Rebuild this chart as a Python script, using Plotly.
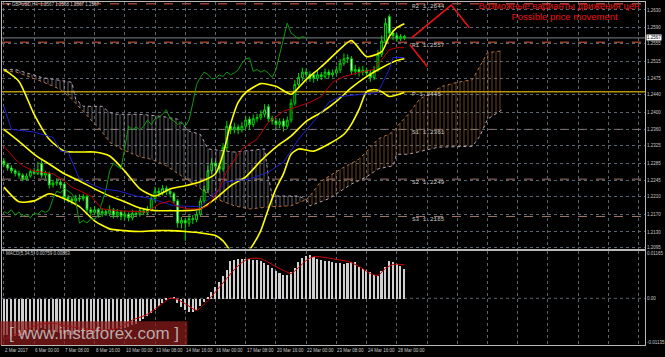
import plotly.graph_objects as go

W, H = 665, 357

# ---------------- data ----------------
date_labels = ["2 Mar 2017", "6 Mar 00:00", "7 Mar 08:00", "8 Mar 16:00", "10 Mar 00:00",
               "13 Mar 08:00", "14 Mar 16:00", "16 Mar 00:00", "17 Mar 08:00", "20 Mar 16:00",
               "22 Mar 00:00", "23 Mar 08:00", "24 Mar 16:00", "28 Mar 00:00"]
label_bars = [0, 8, 16, 24, 32, 40, 48, 56, 64, 72, 80, 88, 96, 104]

price_ticks = [1.2630, 1.2590, 1.2555, 1.2515, 1.2475, 1.2440, 1.2400, 1.2360, 1.2325,
               1.2285, 1.2245, 1.2210, 1.2170, 1.2130, 1.2095]
macd_ticks = [0.01165, 0.0, -0.01135]
macd_tick_text = ["0.01165", "0.00", "-0.01135"]

opens = [1.2290,1.2282,1.2274,1.2268,1.2262,1.2258,1.2250,1.2256,1.2266,1.2262,
         1.2284,1.2258,1.2262,1.2236,1.2240,1.2242,1.2238,1.2208,1.2204,1.2200,
         1.2206,1.2205,1.2210,1.2180,1.2174,1.2180,1.2170,1.2176,1.2172,1.2180,
         1.2168,1.2175,1.2165,1.2170,1.2162,1.2172,1.2170,1.2178,1.2174,1.2180,
         1.2205,1.2222,1.2218,1.2228,1.2222,1.2216,1.2200,1.2150,1.2156,1.2150,
         1.2160,1.2158,1.2170,1.2200,1.2225,1.2268,1.2285,1.2278,1.2272,1.2320,
         1.2368,1.2360,1.2366,1.2360,1.2368,1.2384,1.2372,1.2385,1.2388,1.2395,
         1.2412,1.2385,1.2380,1.2372,1.2380,1.2368,1.2382,1.2420,1.2462,1.2478,
         1.2490,1.2485,1.2484,1.2476,1.2484,1.2480,1.2490,1.2484,1.2488,1.2495,
         1.2510,1.2520,1.2520,1.2492,1.2496,1.2490,1.2494,1.2488,1.2478,1.2495,
         1.2530,1.2560,1.2615,1.2578,1.2572,1.2565,1.2570]
highs = [1.2296,1.2286,1.2280,1.2272,1.2268,1.2262,1.2262,1.2272,1.2275,1.2288,
         1.2292,1.2268,1.2266,1.2248,1.2250,1.2248,1.2242,1.2214,1.2210,1.2214,
         1.2215,1.2216,1.2214,1.2186,1.2188,1.2184,1.2184,1.2182,1.2190,1.2184,
         1.2182,1.2178,1.2178,1.2174,1.2180,1.2178,1.2186,1.2184,1.2188,1.2214,
         1.2232,1.2230,1.2236,1.2234,1.2226,1.2220,1.2204,1.2164,1.2162,1.2168,
         1.2168,1.2178,1.2208,1.2234,1.2280,1.2296,1.2292,1.2284,1.2330,1.2380,
         1.2374,1.2376,1.2372,1.2378,1.2392,1.2390,1.2394,1.2396,1.2404,1.2418,
         1.2418,1.2392,1.2386,1.2386,1.2386,1.2390,1.2430,1.2472,1.2488,1.2500,
         1.2498,1.2492,1.2490,1.2494,1.2490,1.2498,1.2496,1.2496,1.2504,1.2520,
         1.2532,1.2530,1.2526,1.2506,1.2502,1.2504,1.2500,1.2494,1.2504,1.2540,
         1.2572,1.2612,1.2620,1.2586,1.2578,1.2576,1.2574]
lows = [1.2276,1.2268,1.2262,1.2255,1.2250,1.2244,1.2246,1.2252,1.2258,1.2258,
        1.2252,1.2250,1.2228,1.2230,1.2234,1.2228,1.2200,1.2196,1.2192,1.2196,
        1.2198,1.2200,1.2172,1.2166,1.2168,1.2162,1.2164,1.2166,1.2166,1.2160,
        1.2162,1.2156,1.2158,1.2154,1.2156,1.2164,1.2164,1.2168,1.2168,1.2176,
        1.2198,1.2210,1.2212,1.2214,1.2208,1.2194,1.2140,1.2138,1.2110,1.2142,
        1.2148,1.2152,1.2164,1.2194,1.2218,1.2260,1.2268,1.2262,1.2266,1.2312,
        1.2350,1.2352,1.2350,1.2354,1.2362,1.2360,1.2366,1.2378,1.2382,1.2388,
        1.2378,1.2372,1.2362,1.2364,1.2356,1.2362,1.2376,1.2414,1.2456,1.2470,
        1.2476,1.2468,1.2466,1.2470,1.2472,1.2474,1.2476,1.2478,1.2482,1.2488,
        1.2504,1.2510,1.2486,1.2484,1.2480,1.2482,1.2478,1.2468,1.2472,1.2490,
        1.2524,1.2552,1.2570,1.2562,1.2558,1.2560,1.2562]
closes = [1.2282,1.2274,1.2268,1.2262,1.2258,1.2250,1.2256,1.2266,1.2262,1.2270,
          1.2258,1.2262,1.2236,1.2240,1.2242,1.2236,1.2208,1.2204,1.2200,1.2206,
          1.2205,1.2210,1.2180,1.2174,1.2180,1.2170,1.2176,1.2172,1.2180,1.2168,
          1.2175,1.2165,1.2170,1.2162,1.2172,1.2170,1.2178,1.2174,1.2180,1.2205,
          1.2222,1.2218,1.2228,1.2222,1.2216,1.2200,1.2150,1.2156,1.2150,1.2160,
          1.2158,1.2170,1.2200,1.2225,1.2268,1.2285,1.2278,1.2272,1.2320,1.2368,
          1.2360,1.2366,1.2360,1.2368,1.2382,1.2372,1.2385,1.2388,1.2395,1.2405,
          1.2385,1.2380,1.2372,1.2378,1.2368,1.2382,1.2420,1.2462,1.2478,1.2490,
          1.2485,1.2475,1.2476,1.2484,1.2480,1.2490,1.2484,1.2488,1.2495,1.2510,
          1.2520,1.2522,1.2492,1.2496,1.2490,1.2494,1.2488,1.2478,1.2495,1.2530,
          1.2560,1.2600,1.2578,1.2572,1.2565,1.2570,1.2567]
bars = list(range(len(closes)))
chikou_shift = 26

bb_upper_idx = [0,4,8,12,16,20,24,28,32,36,40,44,48,52,56,58,60,62,64,68,72,76,78,80,84,88,92,96,100,102,104,106]
bb_upper = [1.2496,1.2469,1.2395,1.2339,1.2312,1.2310,1.2310,1.2301,1.2267,1.2227,
            1.2211,1.2227,1.2234,1.2243,1.2261,1.2305,1.2373,1.2422,1.2444,1.2464,
            1.2458,1.2440,1.2455,1.2473,1.2502,1.2534,1.2561,1.2525,1.2536,1.2570,
            1.2590,1.2599]
bb_mid_idx = [0,4,8,12,16,20,24,28,32,36,40,44,48,52,56,60,64,68,72,76,80,84,88,92,96,100,104,106]
bb_middle = [1.2361,1.2334,1.2305,1.2283,1.2261,1.2245,1.2227,1.2211,1.2198,1.2184,
             1.2178,1.2178,1.2178,1.2182,1.2205,1.2234,1.2254,1.2290,1.2321,1.2346,
             1.2379,1.2399,1.2424,1.2455,1.2480,1.2500,1.2516,1.2520]
bb_lower_idx = [0,4,8,12,16,20,24,28,32,36,40,44,48,52,56,58,60,62,64,66,68,70,72,74,76,78,82,86,90,92,94,96,98,100,102,106]
bb_lower = [1.2231,1.2198,1.2200,1.2216,1.2205,1.2187,1.2155,1.2137,1.2133,1.2131,
            1.2133,1.2133,1.2131,1.2128,1.2122,1.2110,1.2088,1.2075,1.2079,1.2102,
            1.2133,1.2182,1.2227,1.2261,1.2305,1.2317,1.2312,1.2328,1.2350,1.2373,
            1.2406,1.2446,1.2451,1.2446,1.2435,1.2444]

tenkan_idx = [0,3,5,8,10,13,16,18,23,26,30,38,41,44,46,49,52,54,57,59,63,67,70,74,78,81,84,87,90,94,98,100,102,104,106]
tenkan = [1.2323,1.2294,1.2279,1.2267,1.2265,1.2261,1.2245,1.2231,1.2211,1.2182,
          1.2178,1.2175,1.2193,1.2200,1.2187,1.2182,1.2182,1.2189,1.2227,1.2267,
          1.2317,1.2339,1.2377,1.2402,1.2413,1.2422,1.2435,1.2467,1.2480,1.2489,
          1.2496,1.2518,1.2540,1.2545,1.2545]
kijun_idx = [0,2,8,13,15,17,20,26,30,35,39,45,52,57,59,65,70,74,78,84,86,89,99,102,103,106]
kijun = [1.2413,1.2361,1.2355,1.2343,1.2312,1.2310,1.2249,1.2227,1.2223,1.2211,
         1.2205,1.2189,1.2187,1.2227,1.2243,1.2249,1.2265,1.2287,1.2339,1.2399,
         1.2422,1.2435,1.2444,1.2496,1.2523,1.2523]

span_a_idx = [0,3,10,15,18,26,28,31,36,39,43,48,52,56,61,65,71,76,80,81,84,90,94,99,103,105,107,110,116,120,124,126,128,132]
span_a = [1.2491,1.2491,1.2469,1.2451,1.2429,1.2355,1.2332,1.2317,1.2299,1.2294,
          1.2279,1.2250,1.2227,1.2205,1.2189,1.2182,1.2187,1.2189,1.2203,1.2211,
          1.2245,1.2276,1.2294,1.2339,1.2355,1.2377,1.2395,1.2429,1.2458,1.2467,
          1.2473,1.2502,1.2534,1.2538]
span_b_idx = [0,3,10,18,19,21,26,28,30,36,42,46,49,52,54,61,69,70,71,78,80,81,86,92,96,99,103,104,107,115,124,126,128,132]
span_b = [1.2496,1.2496,1.2478,1.2467,1.2429,1.2413,1.2413,1.2399,1.2395,1.2395,
          1.2390,1.2384,1.2357,1.2350,1.2317,1.2310,1.2317,1.2256,1.2211,1.2211,
          1.2203,1.2189,1.2205,1.2238,1.2254,1.2272,1.2279,1.2305,1.2305,1.2321,
          1.2323,1.2346,1.2384,1.2406]
cloud_cross = 80

pivot_names = ["R2", "R1", "P", "S1", "S2", "S3"]
pivot_values = [1.2644, 1.2557, 1.2446, 1.2361, 1.2249, 1.2165]
bid_price = 1.2567

forecast_up_x = [107.9, 118.4, 123.2]
forecast_up_y = [1.2567, 1.2641, 1.2590]
forecast_dn_x = [107.4, 112.1]
forecast_dn_y = [1.2552, 1.2502]

macd_hist = [-0.0092,-0.0094,-0.0096,-0.0097,-0.0095,-0.0093,-0.0090,-0.0086,-0.0083,-0.0080,
             -0.0076,-0.0078,-0.0082,-0.0085,-0.0086,-0.0088,-0.0090,-0.0092,-0.0092,-0.0090,
             -0.0088,-0.0090,-0.0091,-0.0090,-0.0088,-0.0086,-0.0084,-0.0082,-0.0080,-0.0078,
             -0.0078,-0.0077,-0.0075,-0.0072,-0.0068,-0.0064,-0.0058,-0.0052,-0.0045,-0.0036,
             -0.0028,-0.0018,-0.0010,-0.0004,0.0001,0.0002,-0.0010,-0.0022,-0.0030,-0.0033,
             -0.0033,-0.0028,-0.0018,-0.0008,0.0003,0.0018,0.0031,0.0042,0.0058,0.0074,
             0.0097,0.0100,0.0102,0.0102,0.0101,0.0102,0.0100,0.0099,0.0097,0.0092,
             0.0086,0.0080,0.0072,0.0066,0.0062,0.0060,0.0068,0.0080,0.0095,0.0105,
             0.0110,0.0112,0.0108,0.0103,0.0100,0.0098,0.0097,0.0095,0.0093,0.0091,
             0.0090,0.0092,0.0095,0.0094,0.0082,0.0077,0.0074,0.0069,0.0062,0.0059,
             0.0072,0.0082,0.0096,0.0095,0.0090,0.0083,0.00759]
signal_idx = [0,4,8,10,13,17,22,26,30,34,38,42,44,46,49,51,53,55,57,59,61,63,65,68,71,74,76,78,80,82,85,88,91,94,97,99,101,103,106]
signal = [-0.0105,-0.0090,-0.0072,-0.0066,-0.0064,-0.0072,-0.0079,-0.0082,-0.0077,-0.0056,
          -0.0041,-0.0013,0.0000,-0.0003,-0.0020,-0.0031,-0.0015,0.0005,0.0028,0.0051,
          0.0074,0.0092,0.0102,0.0102,0.0087,0.0072,0.0064,0.0079,0.0097,0.0107,
          0.0105,0.0100,0.0095,0.0082,0.0064,0.0059,0.0077,0.0087,0.00863]

header_text = "▼ GBPUSD,H4  1.2567 1.2568 1.2567 1.2567"
macd_text = "MACD(5,34,5) 0.00759 0.00863"
title_ru = "Возможные варианты движения цен"
title_en = "Possible price movement"
watermark = "[ www.instaforex.com ]"

# ---------------- figure ----------------
GRID = "#5b6570"
FRAME = "#b8b8b8"
LBL = "#c8c8c8"
fig = go.Figure()

# Ichimoku cloud
def seg(idx, vals, lo, hi):
    pts = [(i, v) for i, v in zip(idx, vals) if lo <= i <= hi]
    return [p[0] for p in pts], [p[1] for p in pts]

for lo, hi, fg in [(0, cloud_cross, "#d0c0d0"), (cloud_cross, 200, "#d88a40")]:
    bx, by = seg(span_b_idx, span_b, lo, hi)
    ax, ay = seg(span_a_idx, span_a, lo, hi)
    fig.add_trace(go.Scatter(x=bx, y=by, mode="lines", line=dict(color="#b8a4b8", width=1, dash="dot"),
                             xaxis="x", yaxis="y", hoverinfo="skip"))
    fig.add_trace(go.Scatter(x=ax, y=ay, mode="lines", line=dict(color="#b87040", width=1, dash="dot"),
                             fill="tonexty", fillcolor="rgba(0,0,0,0)",
                             fillpattern=dict(shape="|", fgcolor=fg, bgcolor="rgba(0,0,0,0)",
                                              size=4, solidity=0.2, fgopacity=0.6),
                             xaxis="x", yaxis="y", hoverinfo="skip"))

# Pivot lines
pivot_style = {"R2": ("#9a4030", "dash"), "R1": ("#9a4030", "dash"), "P": ("#b89400", "solid"),
               "S1": ("#a07a6e", "dash"), "S2": ("#a07a6e", "dash"), "S3": ("#a07a6e", "dash")}
for name, val in zip(pivot_names, pivot_values):
    col, dash = pivot_style[name]
    fig.add_shape(type="line", xref="x domain", x0=0, x1=1, yref="y", y0=val, y1=val,
                  line=dict(color=col, width=1.5 if name in ("R2", "R1", "P") else 1, dash=dash), layer="below")
    fig.add_annotation(x=107.5, y=val, xref="x", yref="y", text=f"{name} {val:.4f}", showarrow=False,
                       xanchor="left", yanchor="middle", yshift=-3,
                       font=dict(family="Liberation Mono", size=6, color=LBL))
# bid line
fig.add_shape(type="line", xref="x domain", x0=0, x1=1, yref="y", y0=bid_price, y1=bid_price,
              line=dict(color="#7c8690", width=1), layer="below")

# Bollinger bands
for idx, vals in [(bb_upper_idx, bb_upper), (bb_mid_idx, bb_middle), (bb_lower_idx, bb_lower)]:
    fig.add_trace(go.Scatter(x=idx, y=vals, mode="lines", line=dict(color="#ffff00", width=1.6, shape="spline", smoothing=0.6),
                             xaxis="x", yaxis="y", hoverinfo="skip"))

# Ichimoku lines
fig.add_trace(go.Scatter(x=[b - chikou_shift for b in bars[chikou_shift:]], y=closes[chikou_shift:], mode="lines",
                         line=dict(color="#109a10", width=1), xaxis="x", yaxis="y", hoverinfo="skip"))
fig.add_trace(go.Scatter(x=kijun_idx, y=kijun, mode="lines", line=dict(color="#2020d0", width=1),
                         xaxis="x", yaxis="y", hoverinfo="skip"))
fig.add_trace(go.Scatter(x=tenkan_idx, y=tenkan, mode="lines", line=dict(color="#c00000", width=1),
                         xaxis="x", yaxis="y", hoverinfo="skip"))

# Candles
fig.add_trace(go.Candlestick(x=bars, open=opens, high=highs, low=lows, close=closes,
                             increasing=dict(line=dict(color="#00d800", width=1), fillcolor="black"),
                             decreasing=dict(line=dict(color="#00d800", width=1), fillcolor="white"),
                             whiskerwidth=0, xaxis="x", yaxis="y", hoverinfo="skip"))

# Forecast lines
fig.add_trace(go.Scatter(x=forecast_up_x, y=forecast_up_y, mode="lines", line=dict(color="#ee1111", width=1.5),
                         xaxis="x", yaxis="y", hoverinfo="skip"))
fig.add_trace(go.Scatter(x=forecast_dn_x, y=forecast_dn_y, mode="lines", line=dict(color="#ee1111", width=1.5),
                         xaxis="x", yaxis="y", hoverinfo="skip"))

# Red headline
fig.add_trace(go.Scatter(x=[125.6], y=[1.26380], mode="text", text=[title_ru],
                         textposition="middle right", cliponaxis=True,
                         textfont=dict(family="Liberation Sans", size=9.5, color="#ee1111"),
                         xaxis="x", yaxis="y", hoverinfo="skip"))
fig.add_trace(go.Scatter(x=[148.4], y=[1.26128], mode="text", text=[title_en],
                         textposition="middle center", cliponaxis=True,
                         textfont=dict(family="Liberation Sans", size=9.5, color="#ee1111"),
                         xaxis="x", yaxis="y", hoverinfo="skip"))

# MACD
fig.add_trace(go.Bar(x=bars, y=macd_hist, width=0.42, marker=dict(color="#cfcfcf", line=dict(width=0)),
                     xaxis="x2", yaxis="y2", hoverinfo="skip"))
fig.add_trace(go.Scatter(x=signal_idx, y=signal, mode="lines",
                         line=dict(color="#d00000", width=1, shape="spline", smoothing=0.8),
                         xaxis="x2", yaxis="y2", hoverinfo="skip"))
fig.add_shape(type="line", xref="x2 domain", x0=0, x1=1, yref="y2", y0=0, y1=0,
              line=dict(color=GRID, width=1, dash="dot"), layer="below")

xgrid = list(range(0, 170, 8))
xcommon = dict(range=[-0.5, 169.7], tickvals=xgrid, showticklabels=False, showgrid=True,
               gridcolor=GRID, griddash="dot", gridwidth=1, zeroline=False, showline=True,
               mirror=True, linecolor=FRAME, linewidth=1, ticks="", fixedrange=True)

fig.update_layout(
    width=W, height=H, margin=dict(l=0, r=0, t=0, b=0),
    paper_bgcolor="black", plot_bgcolor="black", showlegend=False,
    font=dict(family="Liberation Sans", color=LBL),
    bargap=0,
    xaxis=dict(domain=[2 / W, 647 / W], anchor="y", rangeslider=dict(visible=False), **xcommon),
    xaxis2=dict(domain=[2 / W, 647 / W], anchor="y2", matches="x", **xcommon),
    yaxis=dict(domain=[1 - 250 / H, 1 - 2 / H], range=[1.20926, 1.26479], side="right",
               tickvals=price_ticks, ticktext=[f"{v:.4f}" for v in price_ticks],
               tickfont=dict(size=4.5, color=LBL), showgrid=True, gridcolor=GRID, griddash="dot",
               zeroline=False, showline=True, mirror=True, linecolor=FRAME, linewidth=1, ticks=""),
    yaxis2=dict(domain=[1 - 347 / H, 1 - 252 / H], range=[-0.01202, 0.012276], side="right",
                tickvals=macd_ticks, ticktext=macd_tick_text, tickfont=dict(size=4.5, color=LBL),
                showgrid=False, zeroline=False, showline=True, mirror=True, linecolor=FRAME,
                linewidth=1, ticks=""),
)

# date labels
for b, t in zip(label_bars, date_labels):
    fig.add_annotation(x=b, y=1 - 352 / H, xref="x", yref="paper", text=t, showarrow=False,
                       xanchor="left", yanchor="middle", xshift=-1,
                       font=dict(size=4.5, color=LBL))

# current price box
fig.add_annotation(x=648 / W, y=bid_price, xref="paper", yref="y", text=f"{bid_price:.4f}", showarrow=False,
                   xanchor="left", yanchor="middle", bgcolor="white", borderpad=0,
                   font=dict(size=4.5, color="black"))

# header & MACD label
fig.add_annotation(x=4 / W, y=1 - 5 / H, xref="paper", yref="paper", text=header_text, showarrow=False,
                   xanchor="left", yanchor="middle", font=dict(size=4.5, color=LBL))
fig.add_annotation(x=4 / W, y=1 - 255 / H, xref="paper", yref="paper", text=macd_text, showarrow=False,
                   xanchor="left", yanchor="middle", font=dict(size=4.5, color=LBL))

# watermark
fig.add_shape(type="rect", xref="paper", yref="paper", x0=0, x1=188 / W, y0=1 - 347 / H, y1=1 - 323 / H,
              fillcolor="rgba(140,28,28,0.72)", line=dict(width=0), layer="above")
fig.add_annotation(x=94 / W, y=1 - 335 / H, xref="paper", yref="paper", text=watermark, showarrow=False,
                   xanchor="center", yanchor="middle",
                   font=dict(family="Liberation Sans", size=17, color="rgba(200,200,200,0.85)"))

fig.write_html("out.html")
